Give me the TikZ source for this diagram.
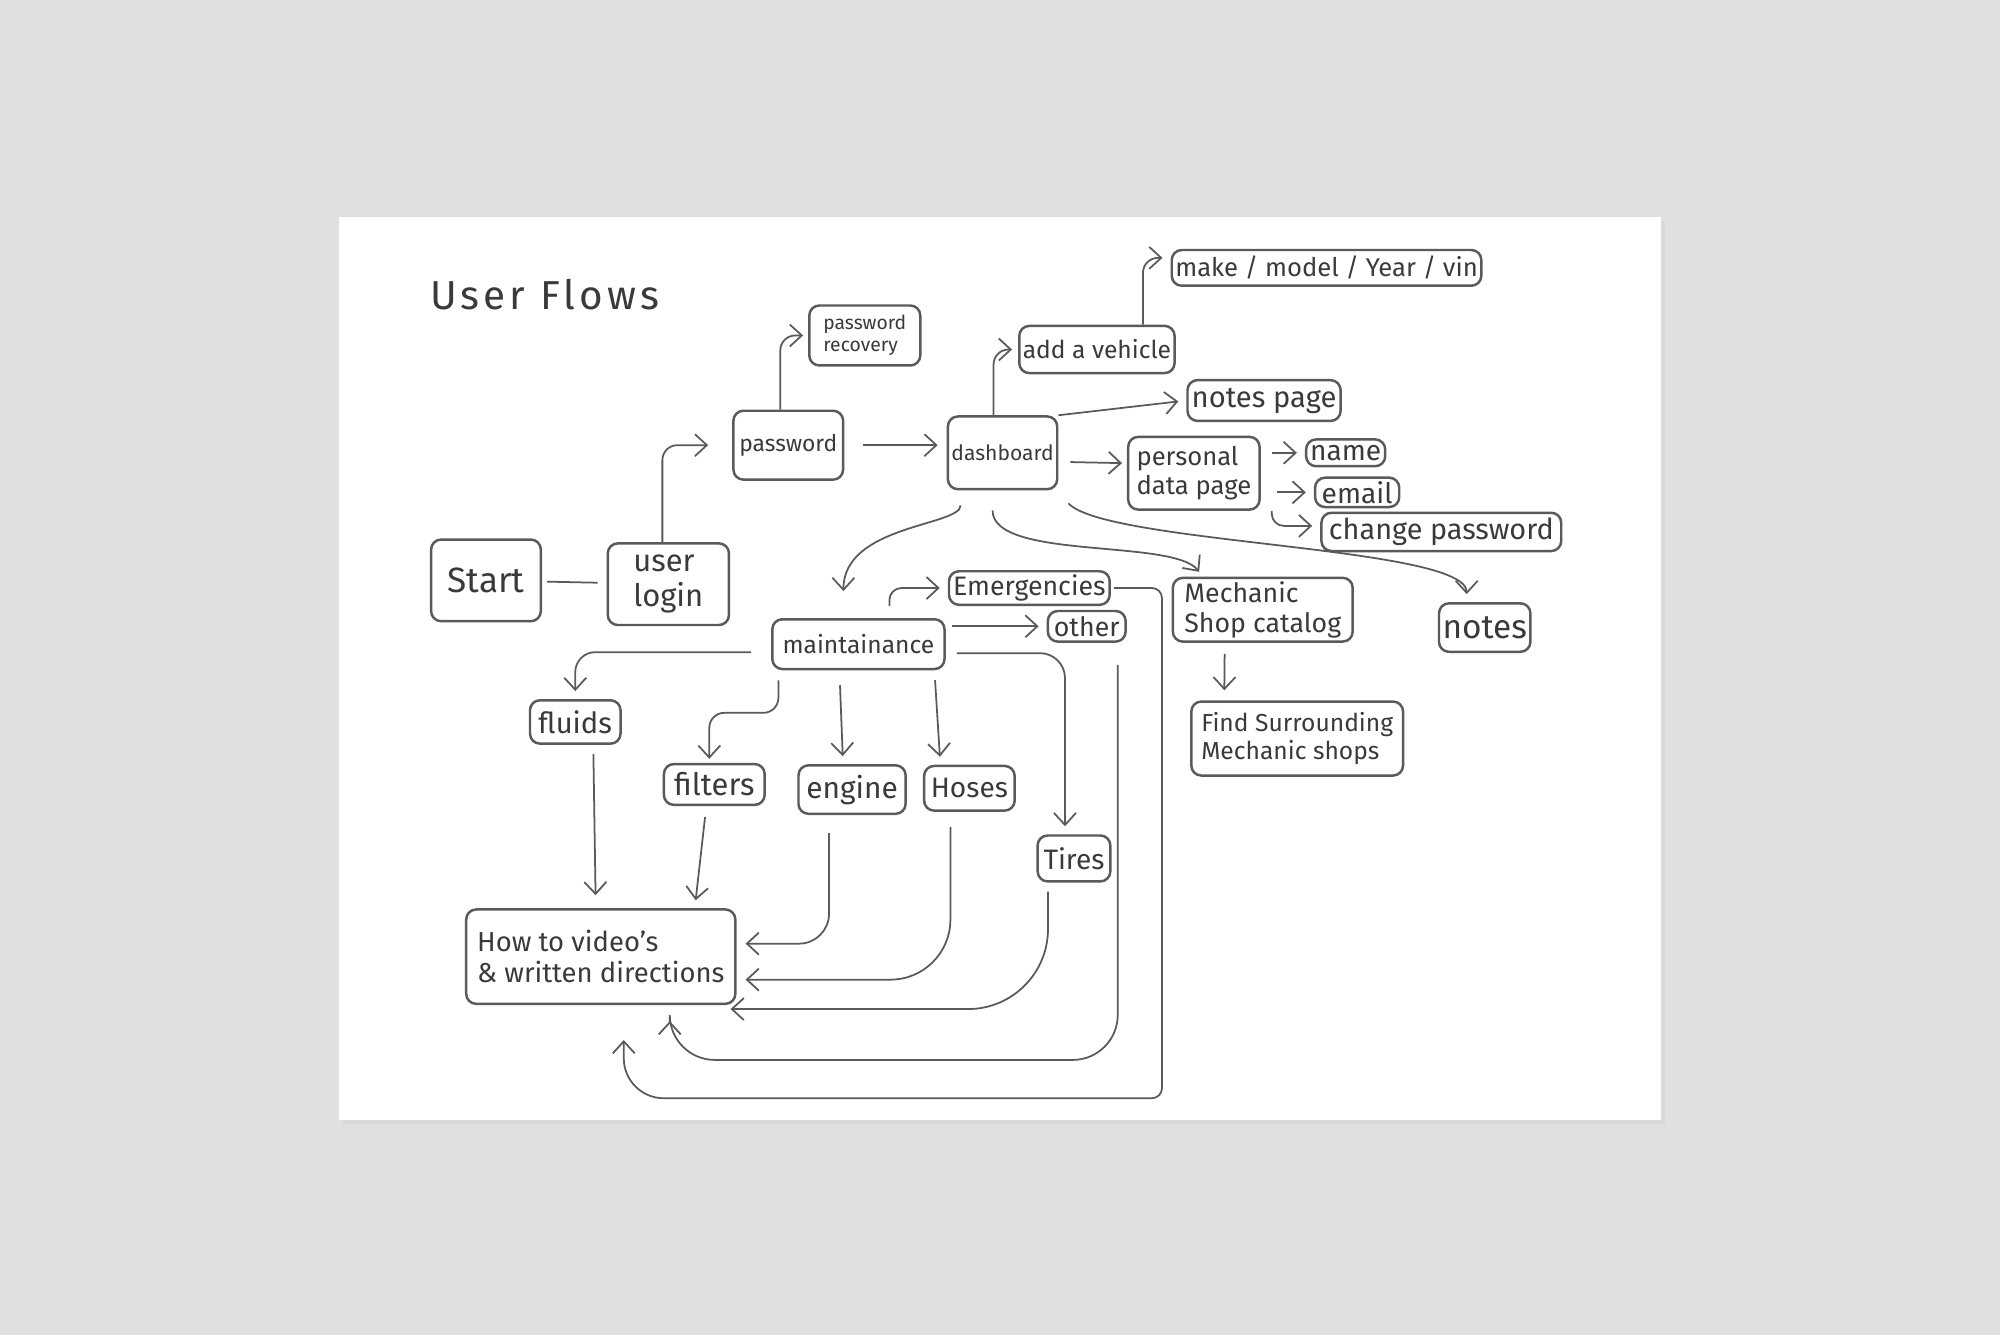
\documentclass[tikz,border=0pt]{standalone}
\usepackage{fontspec}
\setmainfont{Fira Sans}
\newfontfamily\titlefont[LetterSpace=10]{Fira Sans}
\usetikzlibrary{arrows.meta}
\definecolor{pencil}{HTML}{5A5A5A}
\definecolor{ink}{HTML}{3A3A3A}
\definecolor{desk}{HTML}{E0E0E0}

\begin{document}
\begin{tikzpicture}[x=0.12755mm, y=-0.12755mm,
  box/.style={draw=pencil, line width=0.7pt, rounded corners=1mm, text=ink, align=left, inner sep=1pt},
  sz/.style 2 args={minimum width=#1*0.12755mm, minimum height=#2*0.12755mm},
  ft/.style={font={\pgfmathsetmacro\lskip{1.12*#1}\fontsize{#1}{\lskip}\selectfont}},
  pen/.style={draw=pencil, line width=0.5pt},
  arr/.style={pen, -{Straight Barb[length=1.2mm, width=2.2mm]}, shorten >=0.8mm}]

  % desk and sheet
  \useasboundingbox (0,0) rectangle (1568,1047);
  \fill[desk] (0,0) rectangle (1568,1047);
  \fill[black!15] (269,173) rectangle (1305,881);
  \fill[white] (266,170) rectangle (1302,878);

  \node[text=ink, font=\titlefont\fontsize{11.5}{14}\selectfont] (title) at (427,231) {User Flows};

  \node[box, sz={87}{47}, ft=5.5] (rec) at (678,263) {password\\recovery};
  \node[box, sz={86}{54}, ft=6.5] (pw) at (618,349) {password};
  \node[box, sz={82}{57}, ft=6] (dash) at (786,355) {dashboard};
  \node[box, sz={121}{37}, ft=7] (veh) at (860,274) {add a vehicle};
  \node[box, sz={238}{28}, ft=7.3] (make) at (1040,210) {make / model / Year / vin};
  \node[box, sz={120}{32}, ft=8.3] (notepg) at (991,314) {notes page};
  \node[box, sz={103}{57}, ft=7.3] (pers) at (936,371) {personal\\data page};
  \node[box, sz={62}{21}, ft=8] (name) at (1055,355) {name};
  \node[box, sz={66}{23}, ft=8] (email) at (1064,386) {email};
  \node[box, sz={188}{30}, ft=8.2] (chpw) at (1130,417) {change password};
  \node[box, sz={86}{64}, ft=10] (start) at (381,455) {Start};
  \node[box, sz={95}{64}, ft=8.8] (login) at (524,458) {user\\login};
  \node[box, sz={126}{22}, ft=7.6] (emerg) at (807,461) {Emergencies};
  \node[box, sz={61}{24}, ft=7.6] (other) at (852,491) {other};
  \node[box, sz={135}{39}, ft=7] (maint) at (673,505) {maintainance};
  \node[box, sz={141}{50}, ft=7.6] (mech) at (990,478) {Mechanic\\Shop catalog};
  \node[box, sz={66}{38}, ft=9.5] (notes) at (1164,492) {notes};
  \node[box, sz={166}{58}, ft=7] (find) at (1017,579) {Find Surrounding\\Mechanic shops};
  \node[box, sz={71}{34}, ft=8.3] (fluids) at (451,566) {fluids};
  \node[box, sz={79}{32}, ft=8.8] (filters) at (560,615) {filters};
  \node[box, sz={84}{38}, ft=8.5] (engine) at (668,619) {engine};
  \node[box, sz={71}{35}, ft=8] (hoses) at (760,618) {Hoses};
  \node[box, sz={57}{36}, ft=8] (tires) at (842,673) {Tires};
  \node[box, sz={211}{74}, ft=7.8] (howto) at (471,750) {How to video's\\\& written directions};

  % login part
  \path (start) edge[pen, shorten <=0.5mm, shorten >=0.9mm] (login);
  \draw[arr, rounded corners=1.5mm, shorten >=2.4mm] ([xshift=-0.6mm]login.north) |- (pw.west);
  \draw[arr, rounded corners=1.5mm, shorten >=0.5mm] ([xshift=-0.8mm]pw.north) |- (rec.west);
  \path (pw.east) edge[arr, shorten <=1.9mm, shorten >=0.9mm] (dash.west |- pw.east);

  % dashboard
  \draw[arr, rounded corners=1.5mm, shorten >=0.6mm] ([xshift=-0.9mm]dash.north) |- (veh.west);
  \draw[arr, rounded corners=1.5mm] ([xshift=4.6mm]veh.north) |- ([yshift=1mm]make.west);
  \path (dash.north east) edge[arr] (notepg.west);
  \path ([yshift=-0.9mm]dash.east) edge[arr, shorten <=1.2mm, shorten >=0.5mm] ([yshift=1mm]pers.west);
  \path (pers.east |- name.west) edge[arr, shorten <=1.1mm] (name.west);
  \path (pers.east |- email.west) edge[arr, shorten <=1.6mm] (email.west);
  \draw[arr, rounded corners=1.2mm] ([xshift=1.1mm]pers.south east) |- ([yshift=0.6mm]chpw.west);
  \draw[arr] ([shift={(1mm,-1.3mm)}]dash.south east) .. controls +(30,32) and +(0,-44) .. ([xshift=-1.8mm]notes.north);
  \draw[arr, shorten <=2mm, shorten >=0.6mm] ([xshift=-1mm]dash.south) .. controls +(0,55) and +(-23,-30) .. ([xshift=-6mm]mech.north);
  \draw[arr, shorten <=1.5mm, shorten >=0mm] ([xshift=-4.2mm]dash.south) .. controls +(0,28) and +(0,-52) .. ([shift={(-1.5mm,2.7mm)}]maint.north);
  \path ([xshift=-3.8mm]mech.south) edge[arr, shorten <=1.1mm, shorten >=1mm] ([xshift=-7.3mm]find.north);

  % maintainance
  \draw[arr, rounded corners=1.2mm, shorten <=1.2mm] ([xshift=3.1mm]maint.north) |- (emerg.west);
  \path (maint.east |- other.west) edge[arr, shorten <=0.6mm] (other.west);
  \draw[arr, rounded corners=2.5mm, shorten <=1.1mm] ([yshift=-0.9mm]maint.east) -| ([xshift=-0.9mm]tires.north);
  \draw[arr, rounded corners=2mm, shorten <=2mm] ([yshift=-0.8mm]maint.west) -| (fluids.north);
  \draw[arr, rounded corners=1.5mm, shorten <=1mm, shorten >=0.4mm] ([xshift=-8mm]maint.south) |- ([shift={(-0.5mm,5mm)}]filters.north) -- ([xshift=-0.5mm]filters.north);
  \path ([xshift=-1.9mm]maint.south) edge[arr, shorten <=1.5mm] ([xshift=-0.9mm]engine.north);
  \path ([xshift=7.6mm]maint.south) edge[arr, shorten <=1mm] ([xshift=-2.9mm]hoses.north);

  % to the how to page
  \path ([xshift=1.8mm]fluids.south) edge[arr, shorten <=0.9mm, shorten >=1.3mm] ([xshift=-0.5mm]howto.north);
  \path ([xshift=-0.8mm]filters.south) edge[arr, shorten <=1.1mm] ([xshift=9.4mm]howto.north);
  \draw[arr, rounded corners=3mm, shorten <=1.8mm, shorten >=0.9mm] ([xshift=-2.3mm]engine.south) |- ([yshift=1.3mm]howto.east);
  \draw[arr, rounded corners=6mm, shorten <=1.5mm, shorten >=0.9mm] ([xshift=-1.9mm]hoses.south) |- ([yshift=-2.3mm]howto.east);
  \draw[arr, rounded corners=8mm, shorten <=0.9mm, shorten >=0.3mm] ([xshift=-2.6mm]tires.south) |- ([shift={(-0.9mm,-0.4mm)}]howto.south east);
  \draw[arr, rounded corners=4.5mm, shorten <=2.2mm] ([xshift=3.1mm]other.south) -- ++(0,327) -| ([shift={(6.9mm,-0.8mm)}]howto.south);
  \draw[arr, shorten <=0.3mm] (emerg.east) [rounded corners=1mm] -| ++(40,400) [rounded corners=4mm] -| ([shift={(2.3mm,-2.7mm)}]howto.south);
\end{tikzpicture}
\end{document}
